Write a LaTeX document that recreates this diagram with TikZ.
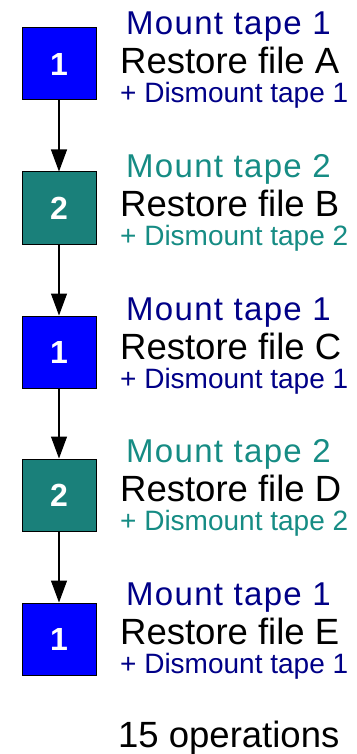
\documentclass[tikz,border=0pt]{standalone}
\usepackage{fontspec}
\setmainfont{Liberation Sans}
\usetikzlibrary{arrows.meta}
\definecolor{navytext}{RGB}{0,0,135}
\definecolor{tealtext}{RGB}{22,140,132}
\definecolor{tealbox}{RGB}{26,128,122}
\definecolor{bluebox}{RGB}{0,0,255}
\tikzset{
  x=1pt, y=-1pt,
  tapebox/.style={draw=black, line width=1pt, minimum width=74pt, minimum height=72pt,
    inner sep=0pt, text=white, font=\fontsize{32}{32}\selectfont\bfseries},
  tapeone/.style={tapebox, fill=bluebox},
  tapetwo/.style={tapebox, fill=tealbox},
  mountline/.style={anchor=base west, inner sep=0pt, font=\fontsize{33}{33}\selectfont\addfontfeature{LetterSpace=4}},
  restoreline/.style={anchor=base west, inner sep=0pt, text=black, font=\fontsize{36.5}{36.5}\selectfont},
  dismountline/.style={anchor=base west, inner sep=0pt, font=\fontsize{28}{28}\selectfont},
  flow/.style={line width=1.1pt, -{Triangle[width=16pt,length=22pt]}}
}
\begin{document}
\begin{tikzpicture}
\useasboundingbox (0,0) rectangle (356,754);
% boxes
\node[tapeone] (b1) at (59,64) {1};
\node[tapetwo] (b2) at (59,208) {2};
\node[tapeone] (b3) at (59,352) {1};
\node[tapetwo] (b4) at (59,495) {2};
\node[tapeone] (b5) at (59,639) {1};
% connectors
\draw[flow] (b1.south) -- (b2.north);
\draw[flow] (b2.south) -- (b3.north);
\draw[flow] (b3.south) -- (b4.north);
\draw[flow] (b4.south) -- (b5.north);
% texts
\node[mountline, text=navytext] (m1) at (126,35) {Mount tape 1};
\node[restoreline] (r1) at (120,74) {Restore file A};
\node[dismountline, text=navytext] (d1) at (120,103) {+ Dismount tape 1};

\node[mountline, text=tealtext] (m2) at (126,177.5) {Mount tape 2};
\node[restoreline] (r2) at (120,216.5) {Restore file B};
\node[dismountline, text=tealtext] (d2) at (120,245.5) {+ Dismount tape 2};

\node[mountline, text=navytext] (m3) at (126,320) {Mount tape 1};
\node[restoreline] (r3) at (120,359) {Restore file C};
\node[dismountline, text=navytext] (d3) at (120,388) {+ Dismount tape 1};

\node[mountline, text=tealtext] (m4) at (126,462.5) {Mount tape 2};
\node[restoreline] (r4) at (120,501.5) {Restore file D};
\node[dismountline, text=tealtext] (d4) at (120,530.5) {+ Dismount tape 2};

\node[mountline, text=navytext] (m5) at (126,605) {Mount tape 1};
\node[restoreline] (r5) at (120,644) {Restore file E};
\node[dismountline, text=navytext] (d5) at (120,673) {+ Dismount tape 1};

\node[restoreline] (ops) at (118,747) {15 operations};
\end{tikzpicture}
\end{document}
